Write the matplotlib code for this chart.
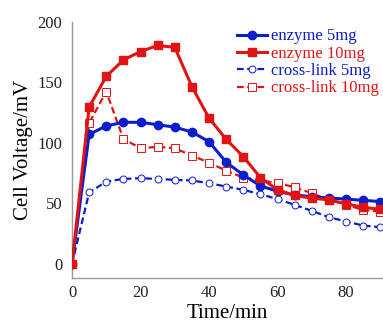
import matplotlib
matplotlib.use("Agg")
import matplotlib.pyplot as plt

plt.rcParams["font.family"] = ["Liberation Serif", "DejaVu Serif"]

# time points (min)
time_min = [0, 5, 10, 15, 20, 25, 30, 35, 40, 45, 50, 55, 60, 65, 70, 75, 80, 85, 90]

# cell voltage (mV)
enzyme_5mg = [0, 107, 114, 117, 117, 115, 113, 109, 101, 84, 73.5, 64.5, 60, 57, 55.5, 54.5, 53.5, 52.5, 51.5]
enzyme_10mg = [0, 129.5, 155, 168.5, 175.5, 180.5, 179, 146.5, 120.5, 103, 88.7, 71.3, 61.2, 56.5, 54.3, 52.9, 49.6, 46.8, 45]
crosslink_5mg = [0, 59, 68, 70.2, 70.8, 70.2, 69.4, 68.9, 66.7, 63.9, 61.2, 57.6, 53.5, 48.8, 43.8, 38.6, 35, 31.7, 30.3]
crosslink_10mg = [0, 116.3, 142.4, 103.3, 95.6, 96.7, 95.6, 89.5, 83.7, 77, 71.3, 69, 66.7, 63.4, 58.4, 52.9, 48.8, 44.6, 43.2]

labels = ["enzyme 5mg", "enzyme 10mg", "cross-link 5mg", "cross-link 10mg"]

blue = "#0A1ECC"
red = "#E01414"

fig = plt.figure(figsize=(3.83, 3.22), dpi=100)
ax = fig.add_axes([0.188, 0.137, 0.812, 0.795])

h3, = ax.plot(time_min, crosslink_5mg, color=blue, lw=1.6, dashes=(3, 1.6),
              marker="o", ms=5, mfc="white", mec=blue, mew=0.7, zorder=2)
h4, = ax.plot(time_min, crosslink_10mg, color=red, lw=1.6, dashes=(3, 1.6),
              marker="s", ms=6, mfc="white", mec=red, mew=0.7, zorder=2)
h1, = ax.plot(time_min, enzyme_5mg, color=blue, lw=2.2,
              marker="o", ms=6, zorder=3)
h2, = ax.plot(time_min, enzyme_10mg, color=red, lw=2.2,
              marker="s", ms=6, zorder=4)

ax.set_xlim(0, 90.8)
ax.set_ylim(-11.6, 200)
ax.set_xticks([0, 20, 40, 60, 80])
ax.set_yticks([0, 50, 100, 150, 200])
ax.tick_params(length=0, labelsize=12, colors="#222222")
ax.tick_params(axis="y", pad=7)
ax.tick_params(axis="x", pad=5)
for s in ["top", "right"]:
    ax.spines[s].set_visible(False)
for s in ["left", "bottom"]:
    ax.spines[s].set_color("#999999")
    ax.spines[s].set_linewidth(1.0)

ax.set_xlabel("Time/min", fontsize=15, labelpad=2)
ax.set_ylabel("Cell Voltage/mV", fontsize=15, labelpad=3)

leg = ax.legend([h1, h2, h3, h4], labels, loc="upper left",
                bbox_to_anchor=(0.62, 0.912), bbox_transform=fig.transFigure,
                frameon=False, fontsize=12, handlelength=1.8, handletextpad=0.2,
                labelspacing=0.08, borderpad=0, borderaxespad=0)
for txt, c in zip(leg.get_texts(), [blue, red, blue, red]):
    txt.set_color(c)

fig.savefig("out.png", dpi=100)
